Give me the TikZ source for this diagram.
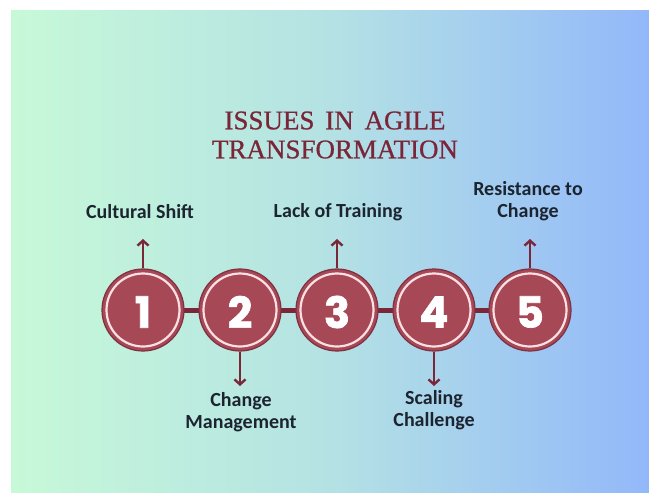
\documentclass[tikz,border=0pt]{standalone}
\usepackage{fontspec}
\setmainfont{Liberation Serif}
\newfontfamily\titlefont{Liberation Serif}[FakeBold=0.7]
\newfontfamily\labelfont{Carlito}
\newfontfamily\numfont{Poppins}[BoldFeatures={FakeBold=1.6}]
\usetikzlibrary{arrows.meta}
\definecolor{bgleft}{RGB}{199,249,216}
\definecolor{bgmid}{RGB}{180,226,228}
\definecolor{bgright}{RGB}{147,184,250}
\definecolor{titlered}{RGB}{122,38,56}
\definecolor{discfill}{RGB}{166,72,86}
\definecolor{discedge}{RGB}{128,48,64}
\definecolor{ringpink}{RGB}{252,224,228}
\definecolor{linkred}{RGB}{122,40,56}
\definecolor{labeltext}{RGB}{28,36,48}
\tikzset{
  x=1pt, y=-1pt,
  disc/.style={circle, minimum size=82pt, inner sep=0pt, fill=discfill,
    draw=discedge, line width=1.2pt},
  ring/.style={draw=ringpink, line width=2.2pt},
  digit/.style={text=white, inner sep=0pt,
    font=\numfont\bfseries\fontsize{43}{43}\selectfont},
  link/.style={draw=linkred, line width=5pt},
  pointer/.style={draw=linkred, line width=2.6pt,
    -{Straight Barb[length=5pt,width=11pt,line width=2.4pt]}},
  caption/.style={text=labeltext, align=center,
    font=\labelfont\bfseries\fontsize{20}{21.5}\selectfont, inner sep=0pt},
  heading/.style={text=titlered, align=center,
    font=\titlefont\fontsize{27}{29}\selectfont, inner sep=0pt}
}
\begin{document}
\begin{tikzpicture}
\useasboundingbox (0,0) rectangle (649,493);
\fill[white] (0,0) rectangle (649,493);
% background panel
\shade[left color=bgleft, right color=bgright, middle color=bgmid]
  (11,10) rectangle (649,493);
% title
\node[heading] (title) at (335,135)
  {ISSUES\hspace{0.4em}IN\hspace{0.4em}AGILE\\TRANSFORMATION};
% connecting bar behind the discs
\coordinate (barL) at (143,310);
\coordinate (barR) at (530,310);
\draw[link] (barL) -- (barR);
% numbered discs
\foreach \i/\x in {1/143,2/240,3/337,4/434,5/530}{
  \node[disc] (d\i) at (\x,310) {};
  \draw[ring] (d\i.center) circle[radius=36.5pt];
  \node[digit] (n\i) at (\x,312) {\i};
}
% arrow tips
\coordinate (t1) at (143,239);
\coordinate (t3) at (337,239);
\coordinate (t5) at (530,239);
\coordinate (t2) at (240,386);
\coordinate (t4) at (434,386);
\draw[pointer] (d1.north) -- (t1);
\draw[pointer] (d3.north) -- (t3);
\draw[pointer] (d5.north) -- (t5);
\draw[pointer] (d2.south) -- (t2);
\draw[pointer] (d4.south) -- (t4);
% captions
\node[caption] (c1) at (140,212) {Cultural Shift};
\node[caption] (c3) at (338,212) {Lack of Training};
\node[caption] (c5) at (528,201) {Resistance to\\Change};
\node[caption] (c2) at (241,412) {Change\\Management};
\node[caption] (c4) at (434,410) {Scaling\\Challenge};
\end{tikzpicture}
\end{document}
